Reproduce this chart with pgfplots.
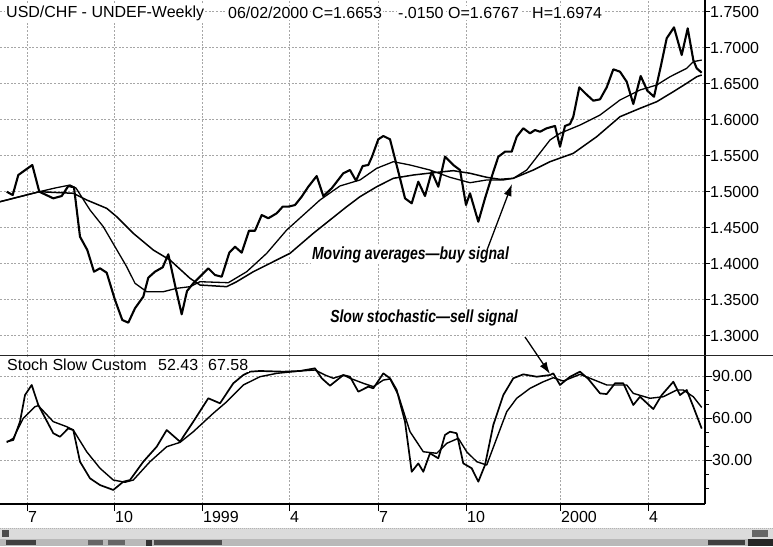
\documentclass[border=0pt]{standalone}
\usepackage{pgfplots}
\pgfplotsset{compat=1.18}
\usepackage{graphicx}
\usepackage{fontspec}
\setmainfont{Liberation Sans}
\usetikzlibrary{arrows.meta}
\newcommand\tf{\fontsize{16}{18}\selectfont}
\newcommand\af{\fontsize{17.5}{19}\selectfont\bfseries\itshape}
\begin{document}
\begin{tikzpicture}[x=1pt,y=1pt]
\pgfplotsset{
  common/.style={
    scale only axis, width=705pt, xmin=0, xmax=705,
    axis line style={draw=none},
    xtick pos=bottom, ytick pos=right, yticklabel pos=right,
    xtick={27,114,202,289,378,466,560,648},
    grid=major,
    major grid style={gray!70, line width=0.6pt, dash pattern=on 2pt off 1.6pt},
    tick style={black, line width=1pt},
    tick align=outside,
    ticklabel style={font=\tf},
    /pgf/number format/assume math mode=true,
  },
}
% ---------------- price panel ----------------
\begin{axis}[common,
  at={(0pt,190pt)}, anchor=south west, height=356pt,
  ymin=1.2718, ymax=1.7663,
  xmajorticks=false,
  ytick={1.30,1.35,1.40,1.45,1.50,1.55,1.60,1.65,1.70,1.75},
  yticklabels={1.3000,1.3500,1.4000,1.4500,1.5000,1.5500,1.6000,1.6500,1.7000,1.7500},
  major tick length=5pt,
  yticklabel style={anchor=west, inner sep=0pt, xshift=0pt},
]
% weekly close
\addplot[black, line width=2.1pt, line join=round] coordinates {
(6.7,1.5000)(12.7,1.4954)(18.3,1.5232)(32.3,1.5371)(39.3,1.5000)(53.3,1.4908)
(61.7,1.4940)(68.3,1.5079)(74,1.5061)(80,1.4375)(87.3,1.4190)(94,1.3889)
(100,1.3936)(106.7,1.3875)(115,1.3496)(122.3,1.3218)(128.3,1.3181)(135,1.3381)
(143.3,1.3542)(148.3,1.3806)(155,1.3889)(162.7,1.3950)(168.3,1.4131)(175,1.3704)
(181.7,1.3297)(187,1.3620)(193.3,1.3728)(208.3,1.3936)(215,1.3843)(221.7,1.3819)
(229.3,1.4153)(235,1.4236)(241.7,1.4153)(249,1.4458)(255,1.4458)(261.7,1.4676)
(268.3,1.4631)(276.7,1.4700)(282.7,1.4792)(288.3,1.4792)(295,1.4815)(301.7,1.4931)
(308.3,1.5069)(316.7,1.5218)(323.3,1.4940)(331.7,1.5047)(343.3,1.5256)(350,1.5301)
(356,1.5153)(362.7,1.5357)(368.3,1.5371)(372,1.5486)(378.3,1.5728)(383.3,1.5774)
(390,1.5728)(400,1.5186)(405,1.4908)(411.7,1.4839)(418.3,1.5139)(425,1.4940)
(431.7,1.5278)(438.3,1.5069)(445,1.5486)(453.3,1.5371)(460,1.5301)(466,1.4815)
(470,1.4978)(478.3,1.4583)(485,1.4908)(491.7,1.5208)(498.3,1.5486)(505,1.5556)
(511.7,1.5556)(516.7,1.5764)(523.3,1.5881)(530,1.5811)(535,1.5857)(540,1.5833)
(546.7,1.5881)(555,1.5913)(560,1.5625)(565,1.5913)(570,1.5940)(573.3,1.6042)
(579.3,1.6450)(586,1.6357)(593.3,1.6264)(600,1.6283)(606.7,1.6450)(613.3,1.6700)
(620,1.6667)(626.7,1.6528)(633.3,1.6218)(640.7,1.6607)(647.3,1.6403)(654,1.6319)
(660.7,1.6736)(666.7,1.7131)(674,1.7283)(681.7,1.6899)(687.7,1.7269)(693.3,1.6829)
(696.7,1.6714)(701.7,1.6653)
};
% faster moving average
\addplot[black, line width=1.3pt, line join=round] coordinates {
(0,1.4861)(39.3,1.5000)(55,1.5051)(70,1.5093)(76,1.5051)(90,1.4746)(103.3,1.4514)
(115,1.4236)(126.7,1.3958)(135,1.3728)(146.7,1.3611)(163.3,1.3611)(176.7,1.3658)
(190,1.3681)(200,1.3750)(228.3,1.3736)(246.7,1.3889)(266.7,1.4144)(286.7,1.4468)
(320,1.4885)(340,1.5080)(360,1.5163)(376.7,1.5325)(393.3,1.5417)(410,1.5371)
(430,1.5301)(450,1.5200)(470,1.5125)(486.7,1.5163)(503.3,1.5163)(513.3,1.5186)
(526.7,1.5301)(550,1.5718)(560,1.5811)(580,1.5926)(600,1.6065)(620,1.6274)
(640,1.6413)(656.7,1.6482)(670,1.6597)(686.7,1.6714)(693.3,1.6806)(701.7,1.6829)
};
% slower moving average
\addplot[black, line width=1.5pt, line join=round] coordinates {
(0,1.4861)(39.3,1.5000)(73.3,1.4978)(86.7,1.4885)(106.7,1.4769)(116.7,1.4653)
(133.3,1.4422)(153.3,1.4190)(170,1.4051)(190,1.3797)(200,1.3704)(226.7,1.3681)
(236.7,1.3750)(253.3,1.3889)(273.3,1.4028)(290,1.4144)(313.3,1.4422)(346.7,1.4792)
(360,1.4931)(376.7,1.5069)(393.3,1.5186)(413.3,1.5232)(433.3,1.5264)(453.3,1.5292)
(470,1.5256)(486.7,1.5200)(500,1.5172)(513.3,1.5186)(533.3,1.5301)(550,1.5417)
(573.3,1.5533)(596.7,1.5764)(620,1.6042)(640,1.6158)(656.7,1.6250)(673.3,1.6389)
(686.7,1.6506)(696.7,1.6597)(701.7,1.6621)
};
\end{axis}
% ---------------- stochastic panel ----------------
\begin{axis}[common,
  at={(0pt,42pt)}, anchor=south west, height=148pt,
  ymin=-1.43, ymax=104.3,
  xticklabels={7,10,1999,4,7,10,2000,4},
  ytick={30,60,90}, yticklabels={30.00,60.00,90.00},
  minor ytick={10,20,40,50,70,80},
  major tick length=7pt, minor tick length=4pt,
  yticklabel style={anchor=west, inner sep=0pt},
  xticklabel style={anchor=north west, inner sep=0pt, xshift=1pt},
]
\addplot[black, line width=1.7pt, line join=round] coordinates {
(6.7,43.1)(13.3,44.3)(20,57.4)(25,76.4)(31.7,83.6)(38.3,69.3)(53.3,49.1)(60,46.6)
(68.3,52.6)(73.3,51.4)(80,28.8)(90,16.9)(100,12.1)(113.3,8.6)(123.3,14.5)(130,15.7)
(143.3,28.8)(156.7,39.5)(166.7,51.4)(180,43.1)(193.3,57.4)(208.3,74.1)(220,70.5)
(233.3,84.8)(243.3,90.7)(250,93.1)(260,93.6)(283.3,93.1)(300,93.6)(315,95.5)
(321.7,88.4)(330,83.1)(343.3,90.7)(350,89.5)(358.3,78.8)(368.3,82.4)(373.3,81.2)
(383.3,91.9)(390,88.4)(396.7,80)(405,57.4)(411.7,21.6)(418.3,27.6)(423.3,21.6)
(430,34.8)(438.3,31.2)(445,47.9)(450,50.2)(456.7,49.1)(463.3,27.6)(471.7,24.1)
(478.3,14.5)(485,26.4)(493.3,55)(503.3,76.4)(513.3,88.4)(523.3,91.2)(536.7,89.5)
(550,90.7)(553.3,91.9)(560,83.6)(570,89.5)(580,93.1)(588.3,87.9)(600,77.6)
(606.7,77.1)(615,84.8)(623.3,84.8)(633.3,69.3)(640,75.2)(653.3,66.4)(661.7,76.4)
(673.3,85.9)(680,76.4)(686.7,80)(693.3,68.1)(701.7,52.43)
};
\addplot[black, line width=1.4pt, line join=round] coordinates {
(6.7,42.6)(13.3,45.5)(23.3,59.8)(35,68.1)(38.3,68.8)(53.3,57.4)(66.7,53.8)(73.3,51.4)
(86.7,35.9)(100,24.1)(113.3,15.7)(125,14.1)(133.3,15.7)(150,28.8)(166.7,39.5)
(180,42.6)(193.3,50.2)(213.3,63.4)(226.7,71.6)(243.3,83.6)(260,89.5)(276.7,91.9)
(300,93.6)(315,94.3)(325,90.7)(333.3,88.4)(343.3,90.7)(350,88.4)(363.3,84.8)
(373.3,82.4)(383.3,87.1)(390,87.9)(398.3,76.4)(410,50.2)(423.3,35.9)(436.7,34.8)
(446.7,41.9)(458.3,45.5)(466.7,35.9)(476.7,28.8)(486.7,26.4)(496.7,45.5)(506.7,64.5)
(516.7,74.1)(530,81.2)(543.3,85.9)(553.3,88.8)(563.3,86.4)(580,91.2)(590,88.4)
(606.7,83.6)(626.7,83.6)(633.3,77.6)(650,74.1)(663.3,75.2)(676.7,80)(683.3,80)
(693.3,75.2)(701.7,67.58)
};
\end{axis}
% axis lines and panel separator
\draw[black, line width=1.1pt] (705,42) -- (705,546);
\draw[black, line width=1.1pt] (0,42) -- (705,42);
\draw[black!85, line width=1.3pt] (0,190.5) -- (773,190.5);
% header texts
\begin{scope}[every node/.style={anchor=west, fill=white, inner sep=1pt, font=\tf}]
\node at (5,533) {USD/CHF - UNDEF-Weekly};
\node at (227,533) {06/02/2000};
\node at (311,533) {C=1.6653};
\node at (397,533) {-.0150};
\node at (447,533) {O=1.6767};
\node at (531,533) {H=1.6974};
\node at (6,181) {Stoch Slow Custom};
\node at (157,181) {52.43};
\node at (207,181) {67.58};
\end{scope}
% annotations
\node[fill=white, inner sep=1pt] at (410.5,291) {\af\scalebox{0.8}[1]{Moving averages—buy signal}};
\node[fill=white, inner sep=1pt] at (424,228) {\af\scalebox{0.8}[1]{Slow stochastic—sell signal}};
\draw[black, line width=1.3pt, -{Latex[length=12pt,width=8pt]}] (487,296) -- (512,362);
\draw[black, line width=1.3pt, -{Latex[length=12pt,width=8pt]}] (525,209) -- (550,172);
% scroll bar
\fill[gray!28] (0,7) rectangle (773,18);
\fill[gray!55] (0,0) rectangle (773,7);
\draw[gray!60, line width=0.6pt, dash pattern=on 1pt off 1pt] (0,17.5) -- (773,17.5);
\fill[black!70] (2,9) rectangle (9,16);
\fill[black!75] (6,1) rectangle (36,6);
\fill[black!60] (88,1) rectangle (103,6);
\fill[black!60] (108,1) rectangle (125,6);
\fill[black!80] (146,0.5) rectangle (152,6.5);
\fill[black!70] (154,1) rectangle (222,6);
\fill[black!75] (708,1) rectangle (745,6);
\fill[black!85] (748,0) rectangle (773,7);
\fill[black!60] (752,9) rectangle (768,16);
\pgfresetboundingbox
\useasboundingbox (0,0) rectangle (773,546);
\end{tikzpicture}
\end{document}
